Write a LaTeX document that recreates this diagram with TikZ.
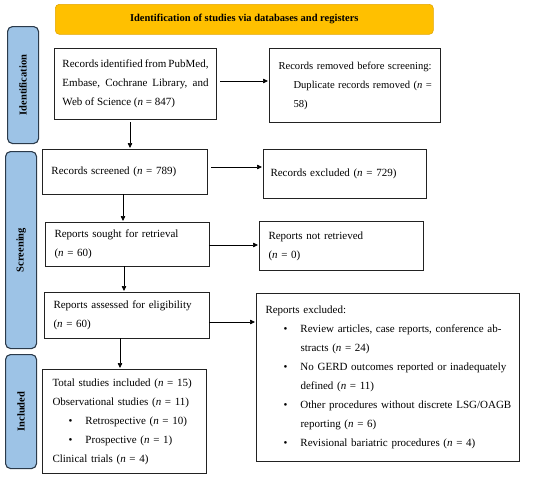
\documentclass[tikz,border=0pt]{standalone}
\usepackage{fontspec}
\setmainfont{Liberation Serif}
\usetikzlibrary{arrows.meta}
\definecolor{bannerfill}{HTML}{FFC000}
\definecolor{bannerdraw}{HTML}{E3A600}
\definecolor{sidefill}{HTML}{9DC3E6}
\definecolor{sidedraw}{HTML}{2B3A4A}
\definecolor{boxdraw}{HTML}{222222}
\tikzset{
  boxnode/.style={draw=boxdraw, line width=1pt, inner xsep=9pt, inner ysep=0pt,
    align=left, anchor=north west, font=\fontsize{11}{19}\selectfont},
  sidenode/.style={draw=sidedraw, fill=sidefill, line width=1.1pt, rounded corners=5pt,
    minimum width=31pt, anchor=north west, inner sep=0pt},
  sidelabel/.style={font=\bfseries\fontsize{10.5}{12}\selectfont, rotate=90},
  arr/.style={draw=black, line width=0.7pt, -{Triangle[length=5pt,width=4.5pt]}},
}
\newcommand{\nn}{\textit{n}}
\newcommand{\bul}[1]{\hspace*{#1}\makebox[17pt][l]{\textbullet}}
\newcommand{\oneline}[1]{\mbox{#1}}
\begin{document}
\begin{tikzpicture}[x=1pt,y=-1pt]
\useasboundingbox (0,0) rectangle (550,477);
% banner
\node[draw=bannerdraw, fill=bannerfill, line width=0.6pt, rounded corners=4pt,
  minimum width=378pt, minimum height=30pt, anchor=north west, inner sep=0pt,
  font=\bfseries\fontsize{10.5}{12}\selectfont] (banner) at (55,4)
  {Identification of studies via databases and registers};
% side labels
\node[sidenode, minimum height=117pt] (sid) at (7,26) {};
\node[sidelabel] (sidt) at (sid.center) {Identification};
\node[sidenode, minimum height=197pt] (sscr) at (5,151) {};
\node[sidelabel] (sscrt) at (sscr.center) {Screening};
\node[sidenode, minimum height=114pt] (sinc) at (5,354) {};
\node[sidelabel] (sinct) at (sinc.center) {Included};
% boxes
\node[boxnode, text width=146pt, minimum height=71pt, align=justify, inner xsep=8pt] (b1) at (54,48)
  {Records identified from PubMed,\linebreak Embase, Cochrane Library, and\linebreak Web of Science (\nn{} = 847)};
\node[boxnode, text width=153pt, minimum height=74pt, font=\fontsize{10.6}{19}\selectfont] (b2) at (269,48)
  {\oneline{Records removed before screening:}\\\oneline{\hspace*{15pt}Duplicate records removed (\nn{} =}\\\oneline{\hspace*{15pt}58)}};
\node[boxnode, text width=147pt, minimum height=45pt] (b3) at (42,149)
  {\oneline{Records screened (\nn{} = 789)}};
\node[boxnode, text width=149pt, minimum height=49pt, inner xsep=7pt] (b4) at (263,149)
  {\oneline{Records excluded (\nn{} = 729)}};
\node[boxnode, text width=146pt, minimum height=44pt] (b5) at (45,222)
  {\oneline{Reports sought for retrieval}\\\oneline{(\nn{} = 60)}};
\node[boxnode, text width=146pt, minimum height=49pt] (b6) at (259,221)
  {\oneline{Reports not retrieved}\\\oneline{(\nn{} = 0)}};
\node[boxnode, text width=147pt, minimum height=46pt] (b7) at (44,292)
  {\oneline{Reports assessed for eligibility}\\\oneline{(\nn{} = 60)}};
\node[boxnode, text width=245pt, minimum height=168pt] (b8) at (256,293)
  {\oneline{Reports excluded:}\\
   \oneline{\bul{18pt}Review articles, case reports, conference ab-}\\
   \oneline{\hspace*{35pt}stracts (\nn{} = 24)}\\
   \oneline{\bul{18pt}No GERD outcomes reported or inadequately}\\
   \oneline{\hspace*{35pt}defined (\nn{} = 11)}\\
   \oneline{\bul{18pt}Other procedures without discrete LSG/OAGB}\\
   \oneline{\hspace*{35pt}reporting (\nn{} = 6)}\\
   \oneline{\bul{18pt}Revisional bariatric procedures (\nn{} = 4)}};
\node[boxnode, text width=144pt, minimum height=104pt, inner xsep=10pt] (b9) at (42,369)
  {\oneline{Total studies included (\nn{} = 15)}\\
   \oneline{Observational studies (\nn{} = 11)}\\
   \oneline{\bul{16pt}Retrospective (\nn{} = 10)}\\
   \oneline{\bul{16pt}Prospective (\nn{} = 1)}\\
   \oneline{Clinical trials (\nn{} = 4)}};
% arrows
\coordinate (a1s) at (220,81); \coordinate (a1e) at (268,81);
\draw[arr] (a1s) -- (a1e);
\coordinate (d1s) at (130,122); \coordinate (d1e) at (130,148);
\draw[arr] (d1s) -- (d1e);
\coordinate (a2s) at (211,167); \coordinate (a2e) at (262,167);
\draw[arr] (a2s) -- (a2e);
\coordinate (d2s) at (123,194); \coordinate (d2e) at (123,221);
\draw[arr] (d2s) -- (d2e);
\coordinate (a3s) at (209,245); \coordinate (a3e) at (258,245);
\draw[arr] (a3s) -- (a3e);
\coordinate (d3s) at (124,266); \coordinate (d3e) at (124,291);
\draw[arr] (d3s) -- (d3e);
\coordinate (a4s) at (209,322); \coordinate (a4e) at (255,322);
\draw[arr] (a4s) -- (a4e);
\coordinate (d4s) at (120,338); \coordinate (d4e) at (120,368);
\draw[arr] (d4s) -- (d4e);
\end{tikzpicture}
\end{document}
